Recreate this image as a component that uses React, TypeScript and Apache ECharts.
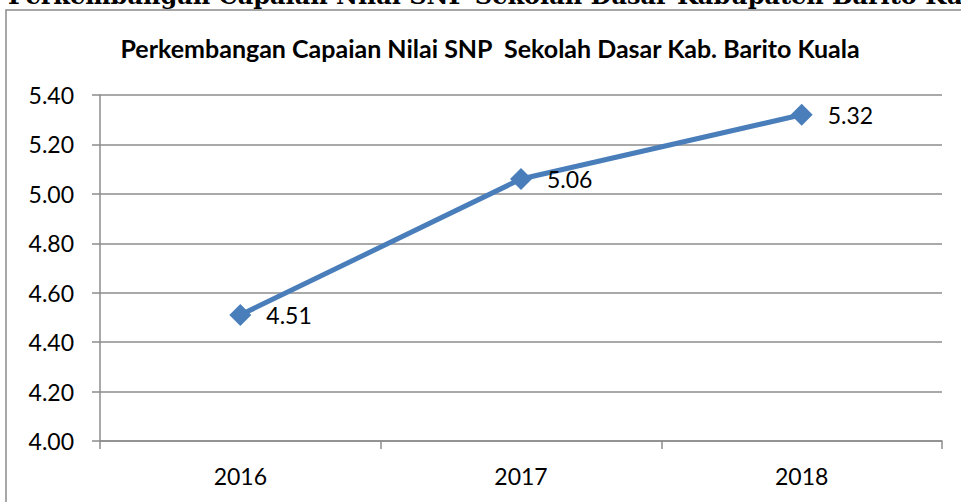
import React, { useEffect, useRef } from "react";
import * as echarts from "echarts";

const categories = ["2016", "2017", "2018"];
const values = [4.51, 5.06, 5.32];
const pageTitle = "Perkembangan Capaian Nilai SNP Sekolah Dasar Kabupaten Barito Kuala";
const chartTitle = "Perkembangan Capaian Nilai SNP  Sekolah Dasar Kab. Barito Kuala";

export default function App() {
  const ref = useRef<HTMLDivElement>(null);
  useEffect(() => {
    if (!ref.current) return;
    const chart = echarts.init(ref.current, null, { renderer: "svg" });
    const grey = "#8c8c8c";
    chart.setOption({
      animation: false,
      backgroundColor: "#ffffff",
      graphic: [
        {
          type: "rect",
          shape: { x: 6, y: 10, width: 1000, height: 600 },
          style: { fill: "none", stroke: grey, lineWidth: 1.5 },
          silent: true,
        },
        {
          type: "text",
          x: 8,
          y: 7,
          style: {
            text: pageTitle,
            font: "bold 24px 'DejaVu Serif'",
            fill: "#000",
            textAlign: "left",
            textVerticalAlign: "bottom",
          },
        },
        {
          type: "text",
          x: 490,
          y: 48,
          style: {
            text: chartTitle,
            font: "bold 25px Lato",
            fill: "#000",
            textAlign: "center",
            textVerticalAlign: "middle",
          },
        },
      ],
      grid: { left: 100, right: 19, top: 95, bottom: 61, containLabel: false },
      xAxis: {
        type: "category",
        data: categories,
        boundaryGap: true,
        axisLine: { show: true, lineStyle: { color: grey, width: 1.5 } },
        axisTick: { show: true, length: 8, alignWithLabel: false, lineStyle: { color: grey, width: 1.5 } },
        axisLabel: { color: "#000", fontFamily: "Lato", fontSize: 23, margin: 23 },
        splitLine: { show: false },
      },
      yAxis: {
        type: "value",
        min: 4.0,
        max: 5.4,
        interval: 0.2,
        axisLine: { show: true, lineStyle: { color: grey, width: 1.5 } },
        axisTick: { show: true, length: 8, lineStyle: { color: grey, width: 1.5 } },
        axisLabel: {
          color: "#000",
          fontFamily: "Lato",
          fontSize: 23,
          margin: 26,
          formatter: (v: number) => v.toFixed(2),
        },
        splitLine: { show: true, lineStyle: { color: grey, width: 1.5 } },
      },
      series: [
        {
          type: "line",
          data: values,
          symbol: "diamond",
          symbolSize: 22,
          lineStyle: { color: "#4a7ebb", width: 5 },
          itemStyle: { color: "#4a7ebb" },
          label: {
            show: true,
            position: "right",
            distance: 15,
            color: "#000",
            fontFamily: "Lato",
            fontSize: 23,
            formatter: (p: any) => p.value.toFixed(2),
          },
        },
      ],
    });
    return () => chart.dispose();
  }, []);
  return (
    <div
      ref={ref}
      style={{ position: "fixed", left: 0, top: 0, width: 961, height: 502, background: "#fff" }}
    />
  );
}
